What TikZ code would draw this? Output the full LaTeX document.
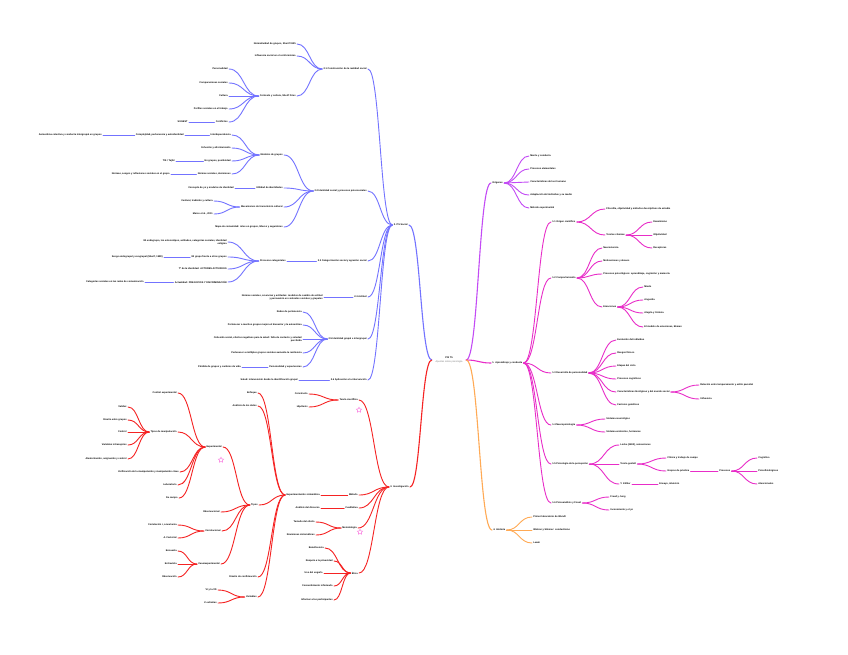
\documentclass[tikz,border=0pt]{standalone}
\usepackage{fontspec}
\setmainfont{Liberation Sans}
\usepackage{tikz}
\usetikzlibrary{calc,shapes.geometric}
\definecolor{brblue}{RGB}{115,115,255}
\definecolor{brred}{RGB}{245,35,35}
\definecolor{brviolet}{RGB}{195,75,245}
\definecolor{brmagenta}{RGB}{232,45,200}
\definecolor{brorange}{RGB}{255,170,85}
\definecolor{starpink}{RGB}{250,130,225}
\newcommand{\mmfont}{\fontsize{2.4}{2.9}\selectfont\bfseries}

\begin{document}
\begin{tikzpicture}[
  x=1pt, y=-1pt,
  hc/.style={to path={let \p1=(\tikztostart), \p2=(\tikztotarget) in
      .. controls ({0.5*\x1+0.5*\x2},\y1) and ({0.5*\x1+0.5*\x2},\y2) .. (\tikztotarget)}},
  lnode/.style={anchor=east, inner xsep=1.2pt, inner ysep=0.4pt, font=\mmfont, align=right},
  rnode/.style={anchor=west, inner xsep=1.2pt, inner ysep=0.4pt, font=\mmfont, align=left},
  rootnode/.style={minimum width=34pt, inner sep=0pt, align=center, font=\mmfont},
  blk/.style={hc, draw=brblue, line width=0.9pt, line cap=round},
  rlk/.style={hc, draw=brred, line width=0.9pt, line cap=round},
  vlk/.style={hc, draw=brviolet, line width=0.9pt, line cap=round},
  mlk/.style={hc, draw=brmagenta, line width=0.9pt, line cap=round},
  olk/.style={hc, draw=brorange, line width=0.9pt, line cap=round},
  flower/.style={star, star points=5, star point ratio=1.9, draw=starpink,
                 line width=0.5pt, minimum size=5.5pt, inner sep=0pt}
]
\path[use as bounding box, fill=white] (0,0) rectangle (848,654);

% Root
\node[rootnode] (root) at (449,360) {PSI 75\\[1.2pt]{\mdseries\color{gray}Apuntes sobre psicología}};

% Blue branch
\node[lnode] (b2) at (409,225) {2. PS Social};
\node[lnode] (b21) at (368,69) {2.1 Construcción de la realidad social};
\node[lnode] (b211) at (297,44) {Normatividad de grupos, Sherif 1935};
\node[lnode] (b212) at (297,56) {Influencia social en el conformismo};
\node[lnode] (b213) at (297,96) {Contexto y cultura, Sherif Fries};
\node[lnode] (b2131) at (229,69) {Personalidad};
\node[lnode] (b2132) at (229,83) {Comparaciones sociales};
\node[lnode] (b2133) at (229,96) {Cultura};
\node[lnode] (b2134) at (229,109) {Perfiles sociales en el trabajo};
\node[lnode] (b2135) at (229,122) {Conflictos};
\node[lnode] (b21351) at (189,122) {SUGEST};
\node[lnode] (b22) at (368,191) {2.2 Identidad social y procesos psicosociales};
\node[lnode] (b221) at (284,155) {Modelos de grupos};
\node[lnode] (b2211) at (232,135) {Interdependencia};
\node[lnode] (b22111) at (185,135) {Complejidad, pertenencia y autoidentidad};
\node[lnode] (b221111) at (103,135) {Autoestima colectiva y conducta intergrupal en grupos};
\node[lnode] (b2212) at (232,148) {Cohesión y afrontamiento};
\node[lnode] (b2213) at (232,161) {En grupos, positividad};
\node[lnode] (b22131) at (176,161) {TIS / Tajfel};
\node[lnode] (b2214) at (232,174) {Normas sociales, decisiones};
\node[lnode] (b22141) at (171,174) {Normas, sesgos y reflexiones sociales en el grupo};
\node[lnode] (b222) at (284,188) {Utilidad de identidades};
\node[lnode] (b2221) at (235,188) {Concepto de yo y modelos de identidad};
\node[lnode] (b223) at (284,207) {Mecanismos de transmisión cultural};
\node[lnode] (b2231) at (214,201) {Festival, tradición y cultura};
\node[lnode] (b2232) at (214,214) {Marco et al., 2011};
\node[lnode] (b224) at (284,227) {Mapa de comunidad: roles en grupos, líderes y seguidores};
\node[lnode] (b23) at (368,261) {2.3 Categorización social y agresión social};
\node[lnode] (b231) at (287,261) {Procesos categoriales};
\node[lnode] (b2311) at (228,242) {Mi endogrupo, los estereotipos, actitudes, categorías sociales, identidad\\estigma};
\node[lnode] (b2312) at (228,257) {Mi grupo frente a otros grupos};
\node[lnode] (b23121) at (164,257) {Sesgo endogrupal y exogrupal (Sherif, 1988)};
\node[lnode] (b2313) at (228,269) {Tª de la identidad: ACTORES ACTIVADOS};
\node[lnode] (b2314) at (228,282) {Actualidad: PREJUICIOS Y DISCRIMINACIÓN};
\node[lnode] (b23141) at (145,282) {Categorías sociales en las redes de comunicación};
\node[lnode] (b24) at (368,297) {2.4 Actitud};
\node[lnode] (b241) at (324,297) {Normas sociales, creencias y actitudes: modelos de cambio de actitud\\y persuasión en contextos sociales y grupales};
\node[lnode] (b25) at (368,339) {2.5 Identidad grupal e intergrupal};
\node[lnode] (b251) at (303,312) {Redes de pertenencia};
\node[lnode] (b252) at (303,325) {Pertenecer a muchos grupos mejora el bienestar y la autoestima};
\node[lnode] (b253) at (303,339) {Cohesión social, efectos negativos para la salud: falta de contacto y soledad\\percibida};
\node[lnode] (b254) at (303,353) {Pertenecer a múltiples grupos sociales aumenta la resiliencia};
\node[lnode] (b255) at (303,367) {Personalidad y experiencias};
\node[lnode] (b2551) at (242,367) {Pérdida de grupos y cambios de vida};
\node[lnode] (b26) at (368,380) {2.6 Aplicación a la intervención};
\node[lnode] (b261) at (299,380) {Salud: intervención desde la identificación grupal};

\draw[blk, line width=1.1pt] (root.west) to (b2.east);
\draw[blk] (b2.west) to (b21.east);
\draw[blk] (b2.west) to (b22.east);
\draw[blk] (b2.west) to (b23.east);
\draw[blk] (b2.west) to (b24.east);
\draw[blk] (b2.west) to (b25.east);
\draw[blk] (b2.west) to (b26.east);
\draw[blk] (b21.west) to (b211.east);
\draw[blk] (b21.west) to (b212.east);
\draw[blk] (b21.west) to (b213.east);
\draw[blk] (b213.west) to (b2131.east);
\draw[blk] (b213.west) to (b2132.east);
\draw[blk] (b213.west) to (b2133.east);
\draw[blk] (b213.west) to (b2134.east);
\draw[blk] (b213.west) to (b2135.east);
\draw[blk] (b2135.west) to (b21351.east);
\draw[blk] (b22.west) to (b221.east);
\draw[blk] (b22.west) to (b222.east);
\draw[blk] (b22.west) to (b223.east);
\draw[blk] (b22.west) to (b224.east);
\draw[blk] (b221.west) to (b2211.east);
\draw[blk] (b221.west) to (b2212.east);
\draw[blk] (b221.west) to (b2213.east);
\draw[blk] (b221.west) to (b2214.east);
\draw[blk] (b2211.west) to (b22111.east);
\draw[blk] (b22111.west) to (b221111.east);
\draw[blk] (b2213.west) to (b22131.east);
\draw[blk] (b2214.west) to (b22141.east);
\draw[blk] (b222.west) to (b2221.east);
\draw[blk] (b223.west) to (b2231.east);
\draw[blk] (b223.west) to (b2232.east);
\draw[blk] (b23.west) to (b231.east);
\draw[blk] (b231.west) to (b2311.east);
\draw[blk] (b231.west) to (b2312.east);
\draw[blk] (b231.west) to (b2313.east);
\draw[blk] (b231.west) to (b2314.east);
\draw[blk] (b2312.west) to (b23121.east);
\draw[blk] (b2314.west) to (b23141.east);
\draw[blk] (b24.west) to (b241.east);
\draw[blk] (b25.west) to (b251.east);
\draw[blk] (b25.west) to (b252.east);
\draw[blk] (b25.west) to (b253.east);
\draw[blk] (b25.west) to (b254.east);
\draw[blk] (b25.west) to (b255.east);
\draw[blk] (b255.west) to (b2551.east);
\draw[blk] (b26.west) to (b261.east);

% Red branch
\node[lnode] (r3) at (410,487) {3. Investigación};
\node[lnode] (r31) at (359,400) {Teoría científica};
\node[lnode] (r311) at (309,394) {Constructo};
\node[lnode] (r312) at (309,407) {Hipótesis};
\node[lnode] (r32) at (359,495) {Método};
\node[lnode] (r321) at (321,495) {Experimentación sistemática};
\node[lnode] (r3211) at (258,393) {Enfoque};
\node[lnode] (r3212) at (258,406) {Análisis de los datos};
\node[lnode] (r3213) at (259,505) {Tipos};
\node[lnode] (r3214) at (258,577) {Diseño de confirmación};
\node[lnode] (r3215) at (258,597) {Variables};
\node[lnode] (r32131) at (223,447) {Experimental};
\node[lnode] (r32132) at (221,512) {Observacional};
\node[lnode] (r32133) at (222,531) {Correlacional};
\node[lnode] (r32134) at (221,564) {Cuasiexperimental};
\node[lnode] (r321311) at (178,393) {Control experimental};
\node[lnode] (r321312) at (178,432) {Tipos de manipulación};
\node[lnode] (r321313) at (180,472) {Verificación de la manipulación y manipulación clave};
\node[lnode] (r321314) at (178,485) {Laboratorio};
\node[lnode] (r321315) at (179,498) {De campo};
\node[lnode] (r3213121) at (128,407) {Validez};
\node[lnode] (r3213122) at (128,420) {Diseño entre grupos};
\node[lnode] (r3213123) at (128,432) {Control};
\node[lnode] (r3213124) at (128,445) {Variables intrasujetos};
\node[lnode] (r3213125) at (128,459) {Aleatorización, asignación y control};
\node[lnode] (r321331) at (178,525) {Correlación r, covarianza};
\node[lnode] (r321332) at (178,538) {A. Factorial};
\node[lnode] (r321341) at (178,551) {Encuesta};
\node[lnode] (r321342) at (178,564) {Entrevista};
\node[lnode] (r321343) at (178,577) {Observación};
\node[lnode] (r32151) at (218,590) {VI y la VD};
\node[lnode] (r32152) at (218,603) {V. extrañas};
\node[lnode] (r33) at (359,508) {Cualitativa};
\node[lnode] (r331) at (321,508) {Análisis del discurso};
\node[lnode] (r34) at (358,528) {Metodología};
\node[lnode] (r341) at (316,522) {Tamaño del efecto};
\node[lnode] (r342) at (316,535) {Revisiones sistemáticas};
\node[lnode] (r35) at (359,573) {Ética};
\node[lnode] (r351) at (325,548) {Beneficencia};
\node[lnode] (r352) at (334,561) {Respeto a la privacidad};
\node[lnode] (r353) at (324,573) {Uso del engaño};
\node[lnode] (r354) at (334,586) {Consentimiento informado};
\node[lnode] (r355) at (334,600) {Informar a los participantes};

% Star icons
\node[flower] (s1) at (359,410) {};
\node[flower] (s2) at (221,460) {};
\node[flower] (s3) at (360,532) {};

\draw[rlk, line width=1.1pt] (root.west) to (r3.east);
\draw[rlk] (r3.west) to (r31.east);
\draw[rlk] (r3.west) to (r32.east);
\draw[rlk] (r3.west) to (r33.east);
\draw[rlk] (r3.west) to (r34.east);
\draw[rlk] (r3.west) to (r35.east);
\draw[rlk] (r31.west) to (r311.east);
\draw[rlk] (r31.west) to (r312.east);
\draw[rlk] (r32.west) to (r321.east);
\draw[rlk] (r321.west) to (r3211.east);
\draw[rlk] (r321.west) to (r3212.east);
\draw[rlk] (r321.west) to (r3213.east);
\draw[rlk] (r321.west) to (r3214.east);
\draw[rlk] (r321.west) to (r3215.east);
\draw[rlk] (r3213.west) to (r32131.east);
\draw[rlk] (r3213.west) to (r32132.east);
\draw[rlk] (r3213.west) to (r32133.east);
\draw[rlk] (r3213.west) to (r32134.east);
\draw[rlk] (r32131.west) to (r321311.east);
\draw[rlk] (r32131.west) to (r321312.east);
\draw[rlk] (r32131.west) to (r321313.east);
\draw[rlk] (r32131.west) to (r321314.east);
\draw[rlk] (r32131.west) to (r321315.east);
\draw[rlk] (r321312.west) to (r3213121.east);
\draw[rlk] (r321312.west) to (r3213122.east);
\draw[rlk] (r321312.west) to (r3213123.east);
\draw[rlk] (r321312.west) to (r3213124.east);
\draw[rlk] (r321312.west) to (r3213125.east);
\draw[rlk] (r32133.west) to (r321331.east);
\draw[rlk] (r32133.west) to (r321332.east);
\draw[rlk] (r32134.west) to (r321341.east);
\draw[rlk] (r32134.west) to (r321342.east);
\draw[rlk] (r32134.west) to (r321343.east);
\draw[rlk] (r3215.west) to (r32151.east);
\draw[rlk] (r3215.west) to (r32152.east);
\draw[rlk] (r33.west) to (r331.east);
\draw[rlk] (r34.west) to (r341.east);
\draw[rlk] (r34.west) to (r342.east);
\draw[rlk] (r35.west) to (r351.east);
\draw[rlk] (r35.west) to (r352.east);
\draw[rlk] (r35.west) to (r353.east);
\draw[rlk] (r35.west) to (r354.east);
\draw[rlk] (r35.west) to (r355.east);

% Violet branch
\node[rnode] (v1) at (491,183) {Orígenes};
\node[rnode] (v11) at (529,156) {Mente y conducta};
\node[rnode] (v12) at (529,169) {Procesos elementales};
\node[rnode] (v13) at (529,182) {Características del ser humano};
\node[rnode] (v14) at (529,195) {Adaptación del individuo y su medio};
\node[rnode] (v15) at (529,208) {Método experimental};

\draw[vlk, line width=1.1pt] (root.east) to (v1.west);
\draw[vlk] (v1.east) to (v11.west);
\draw[vlk] (v1.east) to (v12.west);
\draw[vlk] (v1.east) to (v13.west);
\draw[vlk] (v1.east) to (v14.west);
\draw[vlk] (v1.east) to (v15.west);

% Magenta branch
\node[rnode] (m1) at (491,363) {1. Aprendizaje y conducta};
\node[rnode] (m11) at (551,222) {1.1 Origen científico};
\node[rnode] (m111) at (605,209) {Filosofía, objetividad y métodos descriptivos de estudio};
\node[rnode] (m112) at (605,235) {Teorías clásicas};
\node[rnode] (m1121) at (652,222) {Darwinismo};
\node[rnode] (m1122) at (652,235) {Objetividad};
\node[rnode] (m1123) at (652,248) {Receptores};
\node[rnode] (m12) at (551,278) {1.2 Comportamiento};
\node[rnode] (m121) at (602,248) {Neurociencia};
\node[rnode] (m122) at (602,261) {Motivaciones y deseos};
\node[rnode] (m123) at (602,274) {Procesos psicológicos: aprendizaje, cognición y memoria};
\node[rnode] (m124) at (602,307) {Emociones};
\node[rnode] (m1241) at (643,287) {Miedo};
\node[rnode] (m1242) at (643,300) {Angustia};
\node[rnode] (m1243) at (643,313) {Alegría y tristeza};
\node[rnode] (m1244) at (643,327) {El modelo de emociones, Ekman};
\node[rnode] (m13) at (551,373) {1.3 Desarrollo de personalidad};
\node[rnode] (m131) at (616,340) {Evolución del individuo};
\node[rnode] (m132) at (616,353) {Rasgos físicos};
\node[rnode] (m133) at (616,366) {Etapas del ciclo};
\node[rnode] (m134) at (616,379) {Procesos cognitivos};
\node[rnode] (m135) at (616,392) {Características biológicas y del mundo social};
\node[rnode] (m1351) at (699,385) {Relación entre temperamento y estilo parental};
\node[rnode] (m1352) at (699,399) {Influencia};
\node[rnode] (m136) at (616,405) {Factores genéticos};
\node[rnode] (m14) at (551,425) {1.4 Neuropsicología};
\node[rnode] (m141) at (605,419) {Sistema neurológico};
\node[rnode] (m142) at (605,432) {Sistema endocrino, hormonas};
\node[rnode] (m15) at (551,464) {1.5 Psicología de la percepción};
\node[rnode] (m151) at (619,445) {Locke (1690), sensaciones};
\node[rnode] (m152) at (619,464) {Teoría gestalt};
\node[rnode] (m1521) at (666,458) {Clínica y trabajo de campo};
\node[rnode] (m1522) at (666,471) {Grupos de práctica};
\node[rnode] (m15221) at (718,471) {Procesos};
\node[rnode] (m152211) at (757,458) {Cognitivo};
\node[rnode] (m152212) at (757,471) {Psicofisiológicos};
\node[rnode] (m152213) at (757,484) {Atencionales};
\node[rnode] (m153) at (619,484) {Y. Köhler};
\node[rnode] (m1531) at (658,484) {Ensayo, intuición};
\node[rnode] (m16) at (551,503) {1.6 Psicoanálisis y Freud};
\node[rnode] (m161) at (609,497) {Freud y Jung};
\node[rnode] (m162) at (609,510) {Inconsciente y el yo};

\draw[mlk, line width=1.1pt] (root.east) to (m1.west);
\draw[mlk] (m1.east) to (m11.west);
\draw[mlk] (m1.east) to (m12.west);
\draw[mlk] (m1.east) to (m13.west);
\draw[mlk] (m1.east) to (m14.west);
\draw[mlk] (m1.east) to (m15.west);
\draw[mlk] (m1.east) to (m16.west);
\draw[mlk] (m11.east) to (m111.west);
\draw[mlk] (m11.east) to (m112.west);
\draw[mlk] (m112.east) to (m1121.west);
\draw[mlk] (m112.east) to (m1122.west);
\draw[mlk] (m112.east) to (m1123.west);
\draw[mlk] (m12.east) to (m121.west);
\draw[mlk] (m12.east) to (m122.west);
\draw[mlk] (m12.east) to (m123.west);
\draw[mlk] (m12.east) to (m124.west);
\draw[mlk] (m124.east) to (m1241.west);
\draw[mlk] (m124.east) to (m1242.west);
\draw[mlk] (m124.east) to (m1243.west);
\draw[mlk] (m124.east) to (m1244.west);
\draw[mlk] (m13.east) to (m131.west);
\draw[mlk] (m13.east) to (m132.west);
\draw[mlk] (m13.east) to (m133.west);
\draw[mlk] (m13.east) to (m134.west);
\draw[mlk] (m13.east) to (m135.west);
\draw[mlk] (m13.east) to (m136.west);
\draw[mlk] (m135.east) to (m1351.west);
\draw[mlk] (m135.east) to (m1352.west);
\draw[mlk] (m14.east) to (m141.west);
\draw[mlk] (m14.east) to (m142.west);
\draw[mlk] (m15.east) to (m151.west);
\draw[mlk] (m15.east) to (m152.west);
\draw[mlk] (m15.east) to (m153.west);
\draw[mlk] (m152.east) to (m1521.west);
\draw[mlk] (m152.east) to (m1522.west);
\draw[mlk] (m1522.east) to (m15221.west);
\draw[mlk] (m15221.east) to (m152211.west);
\draw[mlk] (m15221.east) to (m152212.west);
\draw[mlk] (m15221.east) to (m152213.west);
\draw[mlk] (m153.east) to (m1531.west);
\draw[mlk] (m16.east) to (m161.west);
\draw[mlk] (m16.east) to (m162.west);

% Orange branch
\node[rnode] (o1) at (492,530) {4. Historia};
\node[rnode] (o11) at (532,517) {Primer laboratorio de Wundt};
\node[rnode] (o12) at (532,530) {Watson y Skinner: conductismo};
\node[rnode] (o13) at (532,543) {Lewin};

\draw[olk, line width=1.1pt] (root.east) to (o1.west);
\draw[olk] (o1.east) to (o11.west);
\draw[olk] (o1.east) to (o12.west);
\draw[olk] (o1.east) to (o13.west);

\end{tikzpicture}
\end{document}
